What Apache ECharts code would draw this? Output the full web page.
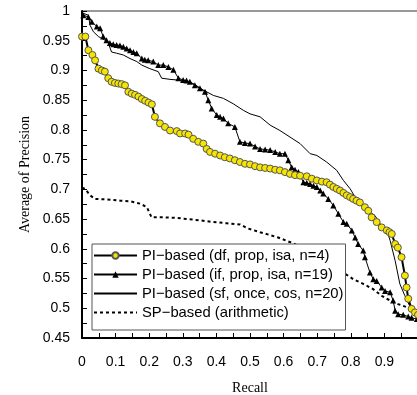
<!DOCTYPE html>
<html>
<head>
<meta charset="utf-8">
<script src="https://cdn.jsdelivr.net/npm/echarts@6/dist/echarts.min.js"></script>
<style>
  html, body { margin: 0; padding: 0; background: #fff; }
  #chart { width: 417px; height: 395px; }
</style>
</head>
<body>
<div id="chart"></div>
<script>
const seriesNames = [
  'PI\u2212based (df, prop, isa, n=4)',
  'PI\u2212based (if, prop, isa, n=19)',
  'PI\u2212based (sf, once, cos, n=20)',
  'SP\u2212based (arithmetic)'
]

// df, prop, isa (yellow circles)
const dfRecall = [0, 0.01, 0.019, 0.031, 0.039, 0.049, 0.059, 0.068, 0.078, 0.088, 0.098, 0.108, 0.118, 0.128, 0.138, 0.148, 0.158, 0.168, 0.178, 0.188, 0.198, 0.208, 0.217, 0.232, 0.247, 0.262, 0.282, 0.292, 0.307, 0.317, 0.331, 0.346, 0.361, 0.371, 0.381, 0.396, 0.411, 0.425, 0.44, 0.455, 0.47, 0.485, 0.5, 0.515, 0.53, 0.545, 0.56, 0.575, 0.589, 0.604, 0.619, 0.634, 0.649, 0.669, 0.684, 0.699, 0.714, 0.728, 0.738, 0.748, 0.758, 0.768, 0.778, 0.788, 0.798, 0.807, 0.817, 0.827, 0.842, 0.852, 0.862, 0.877, 0.892, 0.907, 0.915, 0.922, 0.932, 0.94, 0.951, 0.961, 0.966, 0.971, 0.981, 0.991, 1.0]
const dfPrecision = [0.957, 0.957, 0.934, 0.926, 0.917, 0.903, 0.9, 0.898, 0.887, 0.881, 0.879, 0.878, 0.877, 0.875, 0.864, 0.861, 0.859, 0.856, 0.852, 0.849, 0.846, 0.843, 0.822, 0.811, 0.805, 0.799, 0.798, 0.794, 0.794, 0.792, 0.785, 0.78, 0.777, 0.768, 0.763, 0.76, 0.757, 0.754, 0.752, 0.749, 0.746, 0.743, 0.742, 0.739, 0.737, 0.736, 0.735, 0.733, 0.732, 0.729, 0.726, 0.724, 0.723, 0.722, 0.718, 0.715, 0.713, 0.712, 0.708, 0.704, 0.701, 0.698, 0.694, 0.69, 0.687, 0.684, 0.681, 0.678, 0.67, 0.664, 0.653, 0.645, 0.636, 0.631, 0.628, 0.625, 0.608, 0.602, 0.586, 0.555, 0.535, 0.516, 0.499, 0.493, 0.489]

// if, prop, isa (black triangles)
const ifRecall = [0.004, 0.019, 0.029, 0.044, 0.054, 0.063, 0.073, 0.083, 0.093, 0.103, 0.113, 0.123, 0.133, 0.143, 0.153, 0.163, 0.178, 0.187, 0.197, 0.212, 0.227, 0.242, 0.257, 0.272, 0.287, 0.301, 0.311, 0.321, 0.336, 0.351, 0.366, 0.376, 0.386, 0.401, 0.411, 0.421, 0.435, 0.455, 0.47, 0.485, 0.5, 0.515, 0.53, 0.545, 0.56, 0.575, 0.589, 0.604, 0.614, 0.624, 0.634, 0.644, 0.659, 0.669, 0.679, 0.689, 0.699, 0.709, 0.718, 0.733, 0.748, 0.763, 0.778, 0.788, 0.803, 0.813, 0.822, 0.837, 0.842, 0.857, 0.867, 0.877, 0.892, 0.902, 0.917, 0.926, 0.932, 0.941, 0.956, 0.971, 0.981, 0.997]
const ifPrecision = [0.993, 0.99, 0.982, 0.974, 0.971, 0.957, 0.951, 0.946, 0.944, 0.943, 0.942, 0.94, 0.937, 0.934, 0.931, 0.929, 0.92, 0.918, 0.917, 0.915, 0.909, 0.909, 0.906, 0.901, 0.887, 0.884, 0.883, 0.881, 0.875, 0.87, 0.864, 0.85, 0.836, 0.825, 0.822, 0.819, 0.811, 0.805, 0.78, 0.778, 0.777, 0.772, 0.768, 0.767, 0.766, 0.763, 0.76, 0.76, 0.749, 0.737, 0.733, 0.729, 0.712, 0.711, 0.709, 0.706, 0.704, 0.698, 0.693, 0.684, 0.673, 0.659, 0.645, 0.642, 0.631, 0.619, 0.608, 0.597, 0.586, 0.56, 0.549, 0.546, 0.535, 0.529, 0.527, 0.513, 0.496, 0.49, 0.489, 0.486, 0.484, 0.482]

// sf, once, cos (thin line)
const sfRecall = [0.004, 0.019, 0.024, 0.034, 0.049, 0.068, 0.078, 0.088, 0.103, 0.123, 0.143, 0.163, 0.178, 0.202, 0.227, 0.237, 0.262, 0.282, 0.301, 0.331, 0.361, 0.391, 0.421, 0.45, 0.48, 0.5, 0.53, 0.56, 0.589, 0.619, 0.649, 0.679, 0.699, 0.728, 0.758, 0.778, 0.798, 0.813, 0.832, 0.852, 0.872, 0.887, 0.907, 0.917, 0.932, 0.946, 0.961, 0.976, 0.991, 1.0]
const sfPrecision = [0.996, 0.993, 0.976, 0.965, 0.957, 0.951, 0.946, 0.931, 0.929, 0.926, 0.92, 0.915, 0.909, 0.903, 0.898, 0.887, 0.885, 0.884, 0.882, 0.878, 0.867, 0.858, 0.853, 0.844, 0.833, 0.827, 0.822, 0.808, 0.799, 0.788, 0.777, 0.76, 0.757, 0.746, 0.732, 0.715, 0.701, 0.687, 0.676, 0.664, 0.656, 0.642, 0.631, 0.614, 0.58, 0.541, 0.521, 0.503, 0.492, 0.489]

// SP-based, arithmetic (dashed)
const spRecall = [0, 0.009, 0.024, 0.039, 0.074, 0.113, 0.143, 0.173, 0.193, 0.207, 0.242, 0.282, 0.312, 0.351, 0.391, 0.431, 0.47, 0.495, 0.53, 0.584, 0.634, 0.783, 0.807, 0.837, 0.867, 0.892, 0.907, 0.941, 0.976, 0.996]
const spPrecision = [0.703, 0.701, 0.69, 0.684, 0.683, 0.681, 0.68, 0.676, 0.67, 0.653, 0.653, 0.652, 0.65, 0.648, 0.645, 0.643, 0.641, 0.634, 0.628, 0.619, 0.608, 0.558, 0.549, 0.541, 0.532, 0.521, 0.516, 0.507, 0.5, 0.493]

const xTicks = { min: 0, max: 1, interval: 0.1 }
const yTicks = { min: 0.45, max: 1, interval: 0.05 }

function zip(xs, ys) {
  return xs.map((x, i) => [x, ys[i]])
}

const chart = echarts.init(document.getElementById('chart'), null, { renderer: 'canvas' })

const tickFont = { fontFamily: 'Liberation Sans, Arial, sans-serif', fontSize: 14, color: '#000' }
const noMarker = { opacity: 0 }

chart.setOption({
  animation: false,
  backgroundColor: '#fff',
  grid: {
    left: 82, right: -1, top: 11, bottom: 57,
    outerBoundsMode: 'none',
    containLabel: false,
    show: true, borderColor: '#333', borderWidth: 1
  },
  legend: {
    orient: 'vertical',
    left: 92, top: 244,
    padding: [4, 2, 10, 1],
    itemWidth: 43,
    itemHeight: 8,
    itemGap: 4,
    backgroundColor: '#fff',
    borderColor: '#555',
    borderWidth: 1,
    borderRadius: 0,
    textStyle: { fontFamily: 'Liberation Sans, Arial, sans-serif', fontSize: 14.8, color: '#000' },
    data: [
      { name: seriesNames[0] },
      { name: seriesNames[1] },
      { name: seriesNames[2], itemStyle: noMarker },
      { name: seriesNames[3], itemStyle: noMarker }
    ]
  },
  xAxis: {
    type: 'value',
    ...xTicks,
    name: 'Recall',
    nameLocation: 'middle',
    nameGap: 43,
    nameTextStyle: { fontFamily: 'Liberation Serif, Times New Roman, serif', fontSize: 14, color: '#000' },
    axisLine: { lineStyle: { color: '#000', width: 2 } },
    axisTick: { inside: true, length: 5, lineStyle: { color: '#000' } },
    minorTick: { show: true, splitNumber: 2, length: 5, lineStyle: { color: '#000' } },
    axisLabel: { ...tickFont, margin: 17, showMaxLabel: false },
    splitLine: { show: false }
  },
  yAxis: {
    type: 'value',
    ...yTicks,
    name: 'Average of Precision',
    nameLocation: 'middle',
    nameGap: 46,
    nameTextStyle: { fontFamily: 'Liberation Serif, Times New Roman, serif', fontSize: 14, color: '#000' },
    axisLine: { show: true, lineStyle: { color: '#000', width: 2 } },
    axisTick: { inside: true, length: 5, lineStyle: { color: '#000' } },
    minorTick: { show: true, splitNumber: 2, length: 5, lineStyle: { color: '#000' } },
    axisLabel: { ...tickFont, margin: 12 },
    splitLine: { show: false }
  },
  series: [
    {
      name: seriesNames[3],
      type: 'line',
      data: zip(spRecall, spPrecision),
      symbol: 'none',
      lineStyle: { color: '#000', width: 2, type: [3, 3] },
      itemStyle: { color: '#000' },
      z: 2
    },
    {
      name: seriesNames[2],
      type: 'line',
      data: zip(sfRecall, sfPrecision),
      symbol: 'none',
      lineStyle: { color: '#000', width: 1 },
      itemStyle: { color: '#000' },
      z: 3
    },
    {
      name: seriesNames[1],
      type: 'line',
      data: zip(ifRecall, ifPrecision),
      symbol: 'triangle',
      symbolSize: 6,
      lineStyle: { color: '#000', width: 1 },
      itemStyle: { color: '#000' },
      z: 4
    },
    {
      name: seriesNames[0],
      type: 'line',
      data: zip(dfRecall, dfPrecision),
      symbol: 'circle',
      symbolSize: 7,
      lineStyle: { color: '#000', width: 2 },
      itemStyle: { color: '#f6e500', borderColor: '#555', borderWidth: 1 },
      z: 5
    }
  ]
})
</script>
</body>
</html>
